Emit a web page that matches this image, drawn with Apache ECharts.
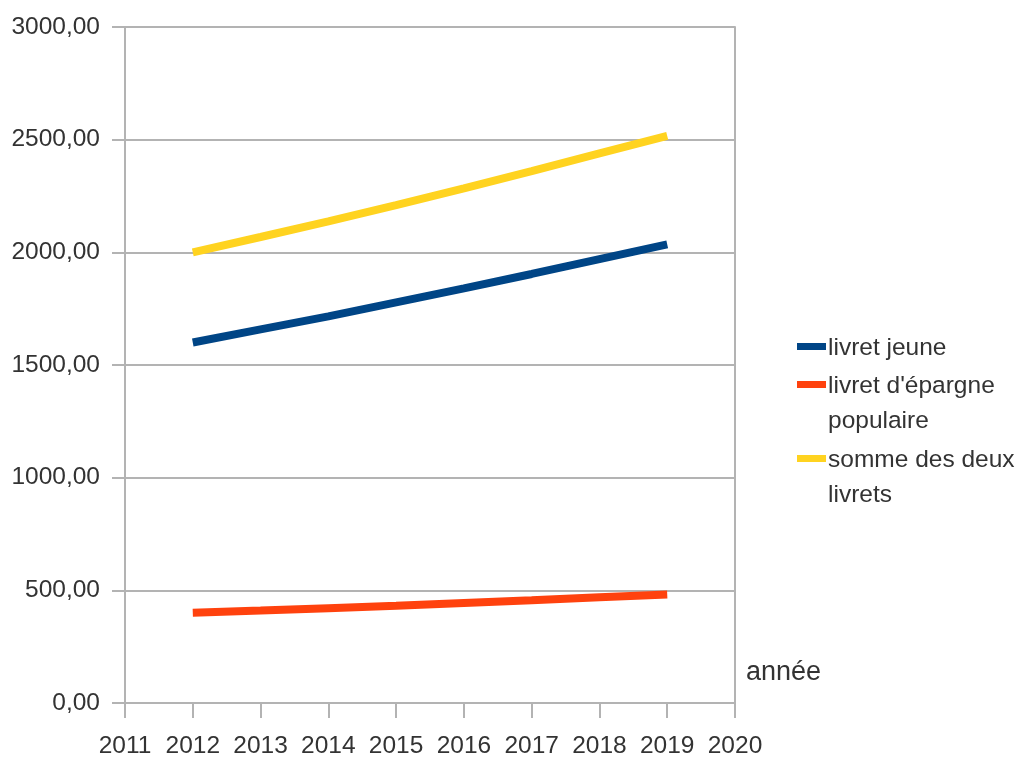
<!DOCTYPE html>
<html><head><meta charset="utf-8">
<script src="https://cdn.jsdelivr.net/npm/echarts@6/dist/echarts.min.js"></script>
<style>html,body{margin:0;padding:0;background:#fff}#c{width:1023px;height:759px}</style>
</head><body><div id="c"></div>
<script>
const years = [2012, 2013, 2014, 2015, 2016, 2017, 2018, 2019];
const livretJeune = [1600, 1658, 1716, 1778, 1840, 1904, 1970, 2035];
const livretEpargne = [400, 410, 421, 432, 444, 456, 469, 482];
const sommeDeux = [2000, 2068, 2137, 2210, 2284, 2360, 2439, 2517];
const seriesNames = ['livret jeune', "livret d'épargne\npopulaire", 'somme des deux\nlivrets'];
const seriesColors = ['#004586', '#ff420e', '#ffd320'];
const seriesValues = [livretJeune, livretEpargne, sommeDeux];
const axisTitle = 'année';

const FONT = '"Liberation Sans", Arial, sans-serif';
const TXT = '#333333';
const GRID = '#b3b3b3';

const chart = echarts.init(document.getElementById('c'));
const legendGraphics = [];
const legendTops = [346, 384, 458];
seriesNames.forEach((n, i) => {
  legendGraphics.push({type: 'rect', left: 797, top: legendTops[i] - 3,
    shape: {width: 29, height: 7}, style: {fill: seriesColors[i]}});
  legendGraphics.push({type: 'text', left: 828, top: legendTops[i] - 15,
    style: {text: n, font: '24.5px ' + FONT, fill: TXT, lineHeight: 35}});
});
legendGraphics.push({type: 'text', left: 746, top: 659,
  style: {text: axisTitle, font: '27px ' + FONT, fill: TXT}});

chart.setOption({
  animation: false,
  backgroundColor: '#fff',
  grid: {left: 125, right: 288, top: 27, bottom: 56, containLabel: false},
  xAxis: {
    type: 'value', min: 2011, max: 2020, interval: 1,
    axisLine: {show: true, onZero: false, lineStyle: {color: GRID, width: 2}},
    axisTick: {show: true, length: 15, lineStyle: {color: GRID, width: 2}},
    splitLine: {show: false},
    axisLabel: {fontFamily: FONT, fontSize: 24.5, color: TXT, margin: 31,
      formatter: v => String(v), showMinLabel: true, showMaxLabel: true}
  },
  yAxis: [{
    type: 'value', min: 0, max: 3000, interval: 500,
    axisLine: {show: true, lineStyle: {color: GRID, width: 2}},
    axisTick: {show: true, length: 13, lineStyle: {color: GRID, width: 2}},
    splitLine: {show: true, lineStyle: {color: GRID, width: 2}},
    axisLabel: {fontFamily: FONT, fontSize: 24.5, color: TXT, margin: 25,
      formatter: v => v.toFixed(2).replace('.', ',')}
  }, {
    type: 'value', min: 0, max: 3000, interval: 500, position: 'right',
    axisLine: {show: true, lineStyle: {color: GRID, width: 2}},
    axisTick: {show: false}, axisLabel: {show: false}, splitLine: {show: false}
  }],
  graphic: legendGraphics,
  series: seriesNames.map((n, i) => ({
    name: n, type: 'line', yAxisIndex: 0,
    data: years.map((y, j) => [y, seriesValues[i][j]]),
    showSymbol: false, symbol: 'none',
    lineStyle: {color: seriesColors[i], width: 8, cap: 'butt'},
    itemStyle: {color: seriesColors[i]}
  }))
});
</script></body></html>
